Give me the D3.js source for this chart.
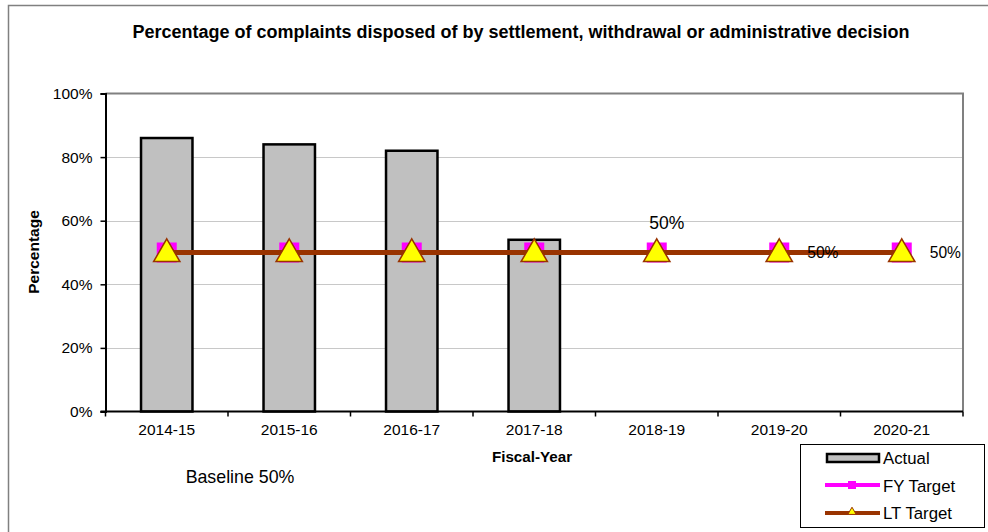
<!DOCTYPE html>
<html><head><meta charset="utf-8">
<script src="https://cdn.jsdelivr.net/npm/d3@7"></script>
<style>body{margin:0;background:#fff}svg{display:block;font-family:Arial,"Liberation Sans",sans-serif}</style>
</head><body>
<svg id="c" width="988" height="532"></svg>
<script>
const categories = ["2014-15","2015-16","2016-17","2017-18","2018-19","2019-20","2020-21"];
const actual = [86, 84, 82, 54, null, null, null];
const fyTarget = [50, 50, 50, 50, 50, 50, 50];
const ltTarget = [50, 50, 50, 50, 50, 50, 50];
const yTicks = [0, 20, 40, 60, 80, 100];
const title = "Percentage of complaints disposed of by settlement, withdrawal or administrative decision";

const svg = d3.select("#c");
const m = {l:105.5, t:93.5, r:963, b:411.5};
const x = d3.scaleBand().domain(categories).range([m.l, m.r]).paddingInner(0).paddingOuter(0);
const y = d3.scaleLinear().domain([0,100]).range([m.b, m.t]);
const cx = c => x(c) + x.bandwidth()/2;

// outer frame
svg.append("path").attr("d", "M8.5,532 V5.5 H988").attr("fill","none").attr("stroke","#808080").attr("stroke-width",1.5);

// title
svg.append("text").attr("x",521).attr("y",38).attr("text-anchor","middle")
  .attr("font-size",18).attr("font-weight","bold").text(title);

// gridlines
svg.append("g").selectAll("line").data(yTicks.filter(d=>d>0 && d<100)).join("line")
  .attr("x1",m.l).attr("x2",m.r).attr("y1",d=>Math.round(y(d))+0.5).attr("y2",d=>Math.round(y(d))+0.5)
  .attr("stroke","#c8c8c8").attr("stroke-width",1);
// top/right plot border
svg.append("path").attr("d",`M${m.l},${m.t} H${m.r} V${m.b}`).attr("fill","none").attr("stroke","#808080").attr("stroke-width",2);

// bars
const bw = x.bandwidth()*0.42;
svg.append("g").selectAll("rect").data(categories.map((c,i)=>({c,v:actual[i]})).filter(d=>d.v!=null)).join("rect")
  .attr("x",d=>cx(d.c)-bw/2).attr("width",bw)
  .attr("y",d=>y(d.v)).attr("height",d=>y(0)-y(d.v))
  .attr("fill","#c0c0c0").attr("stroke","#000").attr("stroke-width",2.5);

// axes
const yAxis = d3.axisLeft(y).tickValues(yTicks).tickFormat(d=>d+"%").tickSize(5).tickPadding(8);
const gy = svg.append("g").attr("transform",`translate(${m.l},0)`).call(yAxis);
gy.select(".domain").attr("stroke","#000").attr("stroke-width",2);
gy.selectAll(".tick line").attr("stroke","#000").attr("stroke-width",1.5);
gy.selectAll("text").attr("font-size",15.5).attr("fill","#000").attr("font-family","Arial,'Liberation Sans',sans-serif");

const gx = svg.append("g").attr("transform",`translate(0,${m.b})`);
gx.append("line").attr("x1",m.l-5).attr("x2",m.r).attr("y1",0).attr("y2",0).attr("stroke","#000").attr("stroke-width",2);
gx.selectAll("line.t").data(d3.range(categories.length+1)).join("line").attr("class","t")
  .attr("x1",i=>m.l+i*x.bandwidth()).attr("x2",i=>m.l+i*x.bandwidth()).attr("y1",0).attr("y2",5)
  .attr("stroke","#000").attr("stroke-width",1.5);
gx.selectAll("text").data(categories).join("text").attr("x",d=>cx(d)).attr("y",23)
  .attr("text-anchor","middle").attr("font-size",15.5).text(d=>d);

// axis titles
svg.append("text").attr("transform","translate(39,252) rotate(-90)").attr("text-anchor","middle")
  .attr("font-size",15.5).attr("font-weight","bold").text("Percentage");
svg.append("text").attr("x",532).attr("y",462).attr("text-anchor","middle")
  .attr("font-size",15.2).attr("font-weight","bold").text("Fiscal-Year");
svg.append("text").attr("x",240).attr("y",482.5).attr("text-anchor","middle")
  .attr("font-size",17.8).text("Baseline 50%");

// FY target line (magenta) then LT target line (brown) over it
const line = d3.line().x((d,i)=>cx(categories[i])).y(d=>y(d));
svg.append("path").attr("d",line(fyTarget)).attr("fill","none").attr("stroke","#ff00ff").attr("stroke-width",4);
svg.append("g").selectAll("rect").data(fyTarget).join("rect")
  .attr("x",(d,i)=>cx(categories[i])-10).attr("y",d=>y(d)-10).attr("width",20).attr("height",20).attr("fill","#ff00ff");
svg.append("path").attr("d",line(ltTarget)).attr("fill","none").attr("stroke","#993300").attr("stroke-width",5);
const tri = d3.symbol().type(d3.symbolTriangle).size(300);
svg.append("g").selectAll("path").data(ltTarget).join("path")
  .attr("transform",(d,i)=>`translate(${cx(categories[i])},${y(d)+1.5})`)
  .attr("d",tri).attr("fill","#ffff00").attr("stroke","#993300").attr("stroke-width",1.5);

// data labels
svg.append("text").attr("x",cx(categories[4])+10).attr("y",229).attr("text-anchor","middle").attr("font-size",17.5).text(fyTarget[4]+"%");
svg.append("text").attr("x",cx(categories[5])+28).attr("y",258).attr("font-size",15.6).text(fyTarget[5]+"%");
svg.append("text").attr("x",cx(categories[6])+28).attr("y",258).attr("font-size",15.6).text(fyTarget[6]+"%");

// legend
const lg = svg.append("g");
lg.append("rect").attr("x",800.5).attr("y",444.5).attr("width",184).attr("height",83).attr("fill","#fff").attr("stroke","#000").attr("stroke-width",1);
lg.append("rect").attr("x",827).attr("y",454).attr("width",52).attr("height",8).attr("fill","#c0c0c0").attr("stroke","#000").attr("stroke-width",2.5);
lg.append("line").attr("x1",825).attr("x2",880).attr("y1",485).attr("y2",485).attr("stroke","#ff00ff").attr("stroke-width",4);
lg.append("rect").attr("x",848).attr("y",481).attr("width",8).attr("height",8).attr("fill","#ff00ff");
lg.append("line").attr("x1",825).attr("x2",880).attr("y1",513).attr("y2",513).attr("stroke","#993300").attr("stroke-width",4);
lg.append("path").attr("transform","translate(852,512)").attr("d",d3.symbol().type(d3.symbolTriangle).size(30))
  .attr("fill","#ffff00").attr("stroke","#993300").attr("stroke-width",1);
const lt = ["Actual","FY Target","LT Target"];
lg.selectAll("text").data(lt).join("text").attr("x",883).attr("y",(d,i)=>464+i*27.5).attr("font-size",16.8).text(d=>d);
</script>
</body></html>
